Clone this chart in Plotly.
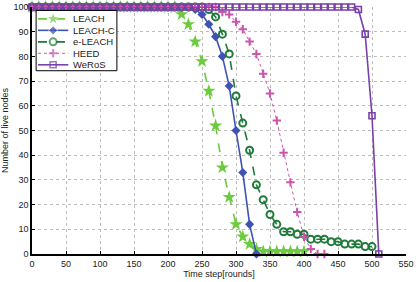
import plotly.graph_objects as go

# ---- data ----
leach_x = [0, 10, 20, 30, 40, 50, 60, 70, 80, 90,
           100, 110, 120, 130, 140, 150, 160, 170, 180, 190,
           200, 210, 220, 230, 240, 250, 260, 270, 280, 290,
           300, 310, 320, 330, 340, 350, 360, 370, 380, 390, 400]
leach_y = [100, 100, 100, 100, 100, 100, 100, 100, 100, 100,
           100, 100, 100, 100, 100, 100, 100, 100, 100, 100,
           100, 100, 97, 93, 86, 78, 66, 52, 35, 23,
           12, 7, 4, 2, 1, 1, 1, 1, 1, 1, 1]

leachc_x = [0, 10, 20, 30, 40, 50, 60, 70, 80, 90,
            100, 110, 120, 130, 140, 150, 160, 170, 180, 190,
            200, 210, 220, 230, 240, 250, 260, 270, 280, 290,
            300, 310, 320, 330]
leachc_y = [100, 100, 100, 100, 100, 100, 100, 100, 100, 100,
            100, 100, 100, 100, 100, 100, 100, 100, 100, 100,
            100, 100, 100, 100, 99, 97, 93, 88, 80, 68,
            50, 33, 12, 0]

eleach_x = [0, 10, 20, 30, 40, 50, 60, 70, 80, 90,
            100, 110, 120, 130, 140, 150, 160, 170, 180, 190,
            200, 210, 220, 230, 240, 250, 260, 270, 280, 290,
            300, 310, 320, 330, 340, 350, 360, 370, 380, 390,
            400, 410, 420, 430, 440, 450, 460, 470, 480, 490, 500]
eleach_y = [100, 100, 100, 100, 100, 100, 100, 100, 100, 100,
            100, 100, 100, 100, 100, 100, 100, 100, 100, 100,
            100, 100, 100, 100, 100, 100, 99, 96, 89, 81,
            64, 53, 42, 28, 22, 16, 12, 9, 9, 8,
            8, 6, 6, 6, 5, 5, 4, 4, 4, 3, 3]

heed_x = [0, 10, 20, 30, 40, 50, 60, 70, 80, 90,
          100, 110, 120, 130, 140, 150, 160, 170, 180, 190,
          200, 210, 220, 230, 240, 250, 260, 270, 280, 290,
          300, 310, 320, 330, 340, 350, 360, 370, 380, 390,
          400, 410, 420, 430]
heed_y = [100, 100, 100, 100, 100, 100, 100, 100, 100, 100,
          100, 100, 100, 100, 100, 100, 100, 100, 100, 100,
          100, 100, 100, 100, 100, 100, 100, 100, 98, 97,
          94, 91, 86, 81, 73, 65, 54, 41, 29, 17,
          7, 2, 0, 0]

weros_x = [0, 10, 20, 30, 40, 50, 60, 70, 80, 90,
           100, 110, 120, 130, 140, 150, 160, 170, 180, 190,
           200, 210, 220, 230, 240, 250, 260, 270, 280, 290,
           300, 310, 320, 330, 340, 350, 360, 370, 380, 390,
           400, 410, 420, 430, 440, 450, 460, 470, 480, 490, 500, 510]
weros_y = [100, 100, 100, 100, 100, 100, 100, 100, 100, 100,
           100, 100, 100, 100, 100, 100, 100, 100, 100, 100,
           100, 100, 100, 100, 100, 100, 100, 100, 100, 100,
           100, 100, 100, 100, 100, 100, 100, 100, 100, 100,
           100, 100, 100, 100, 100, 100, 100, 100, 99, 89, 56, 0]

series_names = ["LEACH", "LEACH-C", "e-LEACH", "HEED", "WeRoS"]
x_ticks = [0, 50, 100, 150, 200, 250, 300, 350, 400, 450, 500, 550]
y_ticks = [0, 10, 20, 30, 40, 50, 60, 70, 80, 90, 100]

FONT = "Liberation Sans, Arial, sans-serif"

styles = [
    dict(line=dict(color="#6CCB3E", width=1.6, dash="dash"),
         marker=dict(symbol="star", size=10, color="#6CCB3E")),
    dict(line=dict(color="#3F51B5", width=1.6),
         marker=dict(symbol="diamond", size=7, color="#3F51B5")),
    dict(line=dict(color="#1E7B3A", width=1.6, dash="dash"),
         marker=dict(symbol="circle-open", size=7, color="#1E7B3A",
                     line=dict(width=2, color="#1E7B3A"))),
    dict(line=dict(color="#CC55AA", width=1, dash="dot"),
         marker=dict(symbol="cross-thin-open", size=6, color="#CC55AA",
                     line=dict(width=2, color="#CC55AA"))),
    dict(line=dict(color="#7B3FA8", width=1.6),
         marker=dict(symbol="square-open", size=6, color="#7B3FA8",
                     line=dict(width=1.6, color="#7B3FA8"))),
]
xs = [leach_x, leachc_x, eleach_x, heed_x, weros_x]
ys = [leach_y, leachc_y, eleach_y, heed_y, weros_y]

fig = go.Figure()
for name, x, y, st in zip(series_names, xs, ys, styles):
    fig.add_trace(go.Scatter(x=x, y=y, name=name, mode="lines+markers",
                             line=st["line"], marker=st["marker"],
                             cliponaxis=False, showlegend=False))

# ---- compact legend drawn on an overlay axis spanning the plot area (0..1) ----
leg_x0, leg_x1 = 0.011, 0.227
leg_y0, leg_y1 = 0.742, 0.986
row_top, row_step = 0.952, 0.0465
samp_x0, samp_x1, text_x = 0.016, 0.097, 0.104

# legend frame (white box with black border)
fig.add_trace(go.Scatter(
    x=[leg_x0, leg_x1, leg_x1, leg_x0, leg_x0],
    y=[leg_y0, leg_y0, leg_y1, leg_y1, leg_y0],
    mode="lines", fill="toself", fillcolor="white",
    line=dict(color="black", width=1),
    xaxis="x2", yaxis="y2", showlegend=False, hoverinfo="skip"))

for i, (name, st) in enumerate(zip(series_names, styles)):
    ry = row_top - i * row_step
    mk = dict(st["marker"])
    mk["size"] = [0, mk["size"], 0]
    fig.add_trace(go.Scatter(
        x=[samp_x0, (samp_x0 + samp_x1) / 2, samp_x1], y=[ry, ry, ry],
        mode="lines+markers", line=st["line"], marker=mk,
        xaxis="x2", yaxis="y2", showlegend=False, hoverinfo="skip"))
    fig.add_annotation(x=text_x, y=ry, xref="x2", yref="y2", text=name,
                       showarrow=False, xanchor="left", yanchor="middle",
                       font=dict(family=FONT, size=9.5, color="#222222"))

axis_common = dict(
    showgrid=True, gridcolor="#bdbdbd", griddash="dot", gridwidth=1,
    zeroline=False, showline=True, linecolor="black", linewidth=1.5,
    ticks="inside", ticklen=3, tickcolor="black", automargin=False,
    tickfont=dict(family=FONT, size=9, color="#222222"),
)

fig.update_layout(
    width=419, height=282,
    margin=dict(l=32, r=13, t=7, b=28, autoexpand=False),
    paper_bgcolor="white", plot_bgcolor="white",
    font=dict(family=FONT, size=9, color="#222222"),
    showlegend=False,
    xaxis=dict(range=[0, 550], tickvals=x_ticks,
               title=dict(text="Time step[rounds]", standoff=2,
                          font=dict(family=FONT, size=9)),
               **axis_common),
    yaxis=dict(range=[0, 100], tickvals=y_ticks,
               title=dict(text="Number of live nodes", standoff=4,
                          font=dict(family=FONT, size=9)),
               **axis_common),
    xaxis2=dict(overlaying="x", range=[0, 1], visible=False),
    yaxis2=dict(overlaying="y", range=[0, 1], visible=False),
)

fig.write_html("out.html")
